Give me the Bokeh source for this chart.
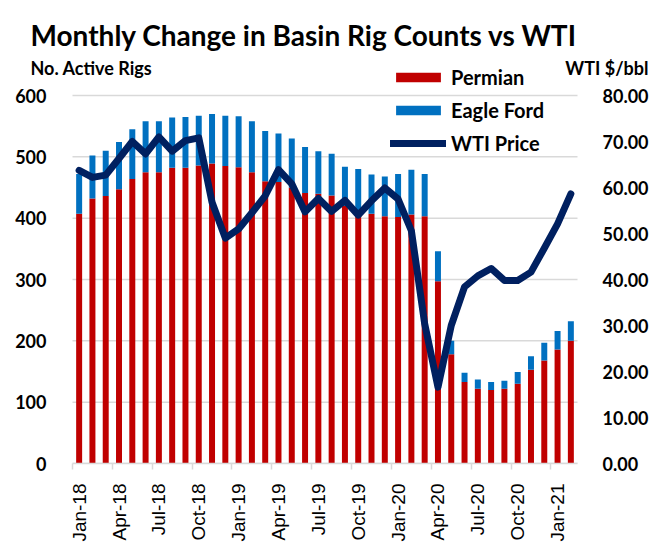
import math
import pandas as pd
from bokeh.plotting import figure
from bokeh.models import (ColumnDataSource, Range1d, LinearAxis, FixedTicker,
                          PrintfTickFormatter, Label, Legend, LegendItem)
from bokeh.embed import file_html
from bokeh.resources import INLINE

# ---------------- data ----------------
months = [d.strftime("%b-%y") for d in pd.date_range("2018-01-01", periods=38, freq="MS")]
permian = [407, 432, 436, 447, 464, 475, 475, 482, 482, 486, 489, 485, 483, 475,
           460, 459, 450, 441, 440, 437, 420, 408, 407, 403, 402, 406, 403, 297,
           178, 133, 122, 120, 122, 130, 153, 168, 186, 200]
eagle_ford = [65, 70, 74, 77, 81, 83, 83, 82, 83, 81, 81, 82, 83, 83,
              82, 79, 80, 75, 69, 68, 64, 72, 64, 65, 70, 73, 69, 49,
              22, 15, 15, 13, 13, 19, 22, 29, 30, 32]
wti = [63.7, 62.2, 62.7, 66.3, 70.0, 67.3, 71.0, 67.9, 70.2, 70.8, 56.8, 49.0,
       51.0, 54.5, 58.2, 63.9, 60.8, 54.7, 57.6, 54.8, 57.2, 54.0, 57.1, 59.9,
       57.5, 50.6, 30.4, 16.6, 30.0, 38.4, 40.8, 42.4, 39.8, 39.8, 41.6, 46.8,
       52.1, 58.6]
tick_labels = ["Jan-18", "Apr-18", "Jul-18", "Oct-18", "Jan-19", "Apr-19", "Jul-19",
               "Oct-19", "Jan-20", "Apr-20", "Jul-20", "Oct-20", "Jan-21"]
rig_ticks = [0, 100, 200, 300, 400, 500, 600]
wti_ticks = [0, 10, 20, 30, 40, 50, 60, 70, 80]

RED = "#C00000"
BLUE = "#0070C0"
NAVY = "#002060"
GRID = "#D9D9D9"
FONT = "Lato"

# ---------------- geometry (pixels) ----------------
W, H = 652, 545
FL, FR, FT, FB = 20, 650, 10, 463          # frame edges
BAR_L, BAR_R, Y600 = 72, 577, 95           # where the bar area sits
n = len(months)
ppu = (BAR_R - BAR_L) / n                  # pixels per month
x_start = -0.5 - (BAR_L - FL) / ppu
x_end = n - 0.5 + (FR - BAR_R) / ppu
ppv = (FB - Y600) / 600.0
y_top = (FB - FT) / ppv

idx = list(range(n))
src = ColumnDataSource(dict(x=idx, month=months, permian=permian,
                            eagle_ford=eagle_ford, wti=wti))

p = figure(width=W, height=H, output_backend="svg", toolbar_location=None,
           x_range=Range1d(x_start, x_end), y_range=Range1d(0, y_top),
           min_border_left=FL, min_border_right=W - FR, min_border_top=FT,
           min_border_bottom=H - FB)
p.extra_y_ranges = {"wti": Range1d(0, y_top * 80 / 600)}
p.outline_line_color = None
p.xgrid.visible = False
p.ygrid.visible = False

# gridlines limited to the bar area
p.segment(x0=[-0.5] * len(rig_ticks), x1=[n - 0.5] * len(rig_ticks),
          y0=rig_ticks, y1=rig_ticks, line_color=GRID, line_width=1.5)

bars = p.vbar_stack(["permian", "eagle_ford"], x="x", width=0.45,
                    color=[RED, BLUE], line_color=None, source=src)
line = p.line("x", "wti", source=src, y_range_name="wti", line_color=NAVY,
              line_width=7, line_join="round", line_cap="round")

# bottom axis
xax = p.xaxis[0]
label_pos = [months.index(t) for t in tick_labels]
xax.ticker = FixedTicker(ticks=label_pos, minor_ticks=[i - 0.5 for i in label_pos])
xax.bounds = (-0.5, n - 0.5)
xax.major_label_overrides = {i: months[i] for i in label_pos}
xax.major_tick_out = 0
xax.major_tick_in = 0
xax.minor_tick_out = 6
xax.minor_tick_in = 0
xax.minor_tick_line_color = GRID
xax.minor_tick_line_width = 1.5
xax.axis_line_color = GRID
xax.axis_line_width = 1.5
xax.major_label_orientation = math.pi / 2
xax.major_label_standoff = 14
xax.major_label_text_font = "Liberation Sans"
xax.major_label_text_font_size = "19px"
xax.major_label_text_color = "black"

# left axis
yax = p.yaxis[0]
yax.ticker = FixedTicker(ticks=rig_ticks)
yax.bounds = (0, 600)
yax.axis_line_color = None
yax.major_tick_line_color = None
yax.minor_tick_line_color = None
yax.major_label_standoff = -(BAR_L - 20 - FL)
yax.major_label_text_font = FONT
yax.major_label_text_font_style = "bold"
yax.major_label_text_font_size = "18px"
yax.major_label_text_color = "black"

# right axis
rax = LinearAxis(y_range_name="wti", ticker=FixedTicker(ticks=wti_ticks),
                 formatter=PrintfTickFormatter(format="%.2f"), bounds=(0, 80))
rax.axis_line_color = None
rax.major_tick_line_color = None
rax.minor_tick_line_color = None
rax.major_label_standoff = -(FR - (BAR_R + 19))
rax.major_label_text_font = FONT
rax.major_label_text_font_style = "bold"
rax.major_label_text_font_size = "18px"
rax.major_label_text_color = "black"
p.add_layout(rax, "right")

# titles (screen units, relative to the frame's bottom-left)
p.add_layout(Label(x=30 - FL, y=FB - 34, x_units="screen", y_units="screen",
                   text="Monthly Change in Basin Rig Counts vs WTI",
                   text_font=FONT, text_font_style="bold", text_font_size="28px",
                   text_color="black", text_baseline="alphabetic"))
p.add_layout(Label(x=30 - FL, y=FB - 67, x_units="screen", y_units="screen",
                   text="No. Active Rigs", text_font=FONT, text_font_style="bold",
                   text_font_size="18px", text_color="black",
                   text_baseline="alphabetic"))
p.add_layout(Label(x=648 - FL, y=FB - 67, x_units="screen", y_units="screen",
                   text="WTI $/bbl", text_font=FONT, text_font_style="bold",
                   text_font_size="18px", text_color="black", text_align="right",
                   text_baseline="alphabetic"))

legend = Legend(items=[LegendItem(label="Permian", renderers=[bars[0]]),
                       LegendItem(label="Eagle Ford", renderers=[bars[1]]),
                       LegendItem(label="WTI Price", renderers=[line])],
                location=(390 - FL, FB - 155), orientation="vertical",
                glyph_width=56, glyph_height=12, label_height=12,
                label_standoff=5, spacing=9, padding=0, margin=0,
                border_line_alpha=0, background_fill_alpha=0,
                label_text_font=FONT, label_text_font_style="bold",
                label_text_font_size="20px", label_text_color="black")
p.add_layout(legend, "center")

open("out.html", "w").write(file_html(p, INLINE))
